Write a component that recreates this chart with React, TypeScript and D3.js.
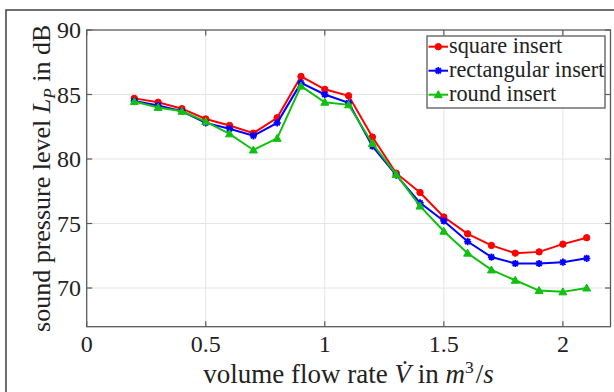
import React from "react";
import * as d3 from "d3";

const flowRates = [0.2, 0.3, 0.4, 0.5, 0.6, 0.7, 0.8, 0.9, 1.0, 1.1, 1.2, 1.3, 1.4, 1.5, 1.6, 1.7, 1.8, 1.9, 2.0, 2.1];
const squareInsert = [84.7, 84.4, 83.9, 83.1, 82.6, 82.0, 83.2, 86.4, 85.4, 84.9, 81.7, 78.9, 77.4, 75.5, 74.2, 73.3, 72.7, 72.8, 73.4, 73.9];
const rectangularInsert = [84.5, 84.15, 83.7, 82.8, 82.35, 81.8, 82.8, 85.9, 85.0, 84.35, 81.0, 78.75, 76.6, 75.2, 73.6, 72.4, 71.9, 71.9, 72.0, 72.3];
const roundInsert = [84.45, 84.0, 83.7, 82.9, 81.95, 80.7, 81.6, 85.65, 84.4, 84.2, 81.2, 78.8, 76.35, 74.4, 72.7, 71.4, 70.6, 69.8, 69.7, 70.0];
const xTicks = [0, 0.5, 1, 1.5, 2];
const yTicks = [70, 75, 80, 85, 90];
const seriesNames = ["square insert", "rectangular insert", "round insert"];

const W = 614, H = 392;
const left = 86.7, right = 610.5, top = 30, bottom = 326.7;
const FONT = "'Liberation Serif', 'Times New Roman', serif";

function Marker({ kind, x, y, color }: { kind: string; x: number; y: number; color: string }) {
  if (kind === "circle") return <circle cx={x} cy={y} r={3.2} fill={color} stroke={color} strokeWidth={1} />;
  if (kind === "star") {
    const r = 3.6, d = r * 0.72;
    return (
      <path
        d={`M${x - r},${y}L${x + r},${y}M${x},${y - r}L${x},${y + r}M${x - d},${y - d}L${x + d},${y + d}M${x - d},${y + d}L${x + d},${y - d}`}
        stroke={color}
        strokeWidth={1.8}
        fill="none"
      />
    );
  }
  const s = 4;
  return <path d={`M${x},${y - s}L${x + s},${y + s * 0.75}L${x - s},${y + s * 0.75}Z`} fill={color} stroke={color} strokeWidth={1} />;
}

export default function App() {
  const x = d3.scaleLinear().domain([0, 2.2]).range([left, right]);
  const y = d3.scaleLinear().domain([67, 90]).range([bottom, top]);
  const series = [
    { name: seriesNames[0], values: squareInsert, color: "#ff0000", kind: "circle" },
    { name: seriesNames[1], values: rectangularInsert, color: "#0000ff", kind: "star" },
    { name: seriesNames[2], values: roundInsert, color: "#10c010", kind: "tri" },
  ];
  const line = d3.line<[number, number]>().x((d) => x(d[0])).y((d) => y(d[1]));
  const axisColor = "#5a5a5a";
  const tickLen = 5.5;
  const legX = 427, legY = 36, legW = 178, legH = 72;

  return (
    <svg width={W} height={H} style={{ position: "absolute", left: 0, top: 0, background: "#fff" }} fontFamily={FONT}>
      <rect x={0} y={0} width={W} height={H} fill="#fff" />
      <rect x={6} y={10} width={800} height={600} fill="none" stroke="#4a4a4a" strokeWidth={1.6} />
      {/* grid */}
      {xTicks.filter((t) => t > 0).map((t) => (
        <line key={"gx" + t} x1={x(t)} x2={x(t)} y1={top} y2={bottom} stroke="#e4e4e4" strokeWidth={1} />
      ))}
      {yTicks.filter((t) => t < 90).map((t) => (
        <line key={"gy" + t} x1={left} x2={right} y1={y(t)} y2={y(t)} stroke="#e4e4e4" strokeWidth={1} />
      ))}
      {/* ticks */}
      {xTicks.map((t) => (
        <g key={"tx" + t}>
          <line x1={x(t)} x2={x(t)} y1={bottom} y2={bottom - tickLen} stroke={axisColor} strokeWidth={1.2} />
          <line x1={x(t)} x2={x(t)} y1={top} y2={top + tickLen} stroke={axisColor} strokeWidth={1.2} />
          <text x={x(t)} y={352} textAnchor="middle" fontSize={24} fill="#222">{t}</text>
        </g>
      ))}
      {yTicks.map((t) => (
        <g key={"ty" + t}>
          <line x1={left} x2={left + tickLen} y1={y(t)} y2={y(t)} stroke={axisColor} strokeWidth={1.2} />
          <line x1={right} x2={right - tickLen} y1={y(t)} y2={y(t)} stroke={axisColor} strokeWidth={1.2} />
          <text x={81} y={y(t) + 8} textAnchor="end" fontSize={24} fill="#222">{t}</text>
        </g>
      ))}
      <rect x={left} y={top} width={right - left} height={bottom - top} fill="none" stroke={axisColor} strokeWidth={1.3} />
      {/* series */}
      {series.map((s) => (
        <g key={s.name}>
          <path d={line(flowRates.map((f, i) => [f, s.values[i]] as [number, number])) || ""} fill="none" stroke={s.color} strokeWidth={2} />
          {flowRates.map((f, i) => (
            <Marker key={i} kind={s.kind} x={x(f)} y={y(s.values[i])} color={s.color} />
          ))}
        </g>
      ))}
      {/* legend */}
      <rect x={legX} y={legY} width={legW} height={legH} fill="#fff" stroke={axisColor} strokeWidth={1.3} />
      {series.map((s, i) => {
        const cy = 46.7 + i * 24;
        return (
          <g key={"lg" + i}>
            <line x1={428.5} x2={448} y1={cy} y2={cy} stroke={s.color} strokeWidth={2} />
            <Marker kind={s.kind} x={438.3} y={cy} color={s.color} />
            <text x={449} y={cy + 6.5} fontSize={22.3} fill="#222">{s.name}</text>
          </g>
        );
      })}
      {/* axis labels */}
      <text x={(left + right) / 2} y={383} textAnchor="middle" fontSize={27} fill="#222">
        volume flow rate <tspan fontStyle="italic">V̇</tspan> in <tspan fontStyle="italic">m</tspan>
        <tspan fontSize={17.5} dy={-10}>3</tspan>
        <tspan dy={10} dx={2}>/</tspan>
        <tspan fontStyle="italic">s</tspan>
      </text>
      <text transform={`translate(50,${(top + bottom) / 2}) rotate(-90)`} textAnchor="middle" fontSize={26} fill="#222">
        sound pressure level <tspan fontStyle="italic">L</tspan>
        <tspan fontStyle="italic" fontSize={17} dy={5}>P</tspan>
        <tspan dy={-5}> in dB</tspan>
      </text>
    </svg>
  );
}
